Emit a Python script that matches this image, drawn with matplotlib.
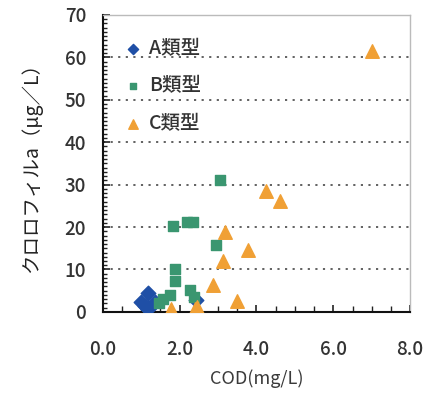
import numpy as np
import matplotlib.pyplot as plt
from matplotlib.ticker import MultipleLocator

plt.rcParams['font.family'] = ['Noto Sans CJK JP', 'DejaVu Sans']

# A類型
a_x = [1.17, 1.00, 1.35, 1.17, 1.10, 2.42]
a_y = [4.5, 2.3, 2.3, 0.8, 1.5, 2.8]
# B類型
b_x = [3.06, 1.83, 2.18, 2.35, 2.94, 1.88, 1.88, 2.27, 1.74, 1.57, 2.38, 1.45]
b_y = [31.0, 20.3, 21.1, 21.3, 15.8, 10.0, 7.3, 5.2, 4.0, 3.0, 3.6, 2.0]
# C類型
c_x = [7.0, 4.26, 4.61, 3.19, 3.79, 3.13, 2.87, 3.48, 1.78, 2.40, 2.45]
c_y = [61.5, 28.6, 26.2, 18.8, 14.6, 12.1, 6.4, 2.6, 0.6, 0.6, 1.2]

x_ticks = [0, 2, 4, 6, 8]
x_ticklabels = ['0.0', '2.0', '4.0', '6.0', '8.0']
y_ticks = [0, 10, 20, 30, 40, 50, 60, 70]

fig = plt.figure(figsize=(4.34, 4.03), dpi=100)
ax = fig.add_axes([0.237, 0.226, 0.708, 0.737])

for gy in y_ticks[1:-1]:
    ax.axhline(gy, color='#555555', lw=1.3, linestyle=(0, (1.2, 3.0)), zorder=1)

ax.scatter(a_x, a_y, marker='D', s=55, color='#1f4fa6', label='A類型', zorder=3)
ax.scatter(b_x, b_y, marker='s', s=45, color='#3a9670', label='B類型', zorder=3)
ax.scatter(c_x, c_y, marker='^', s=95, color='#f0a035', label='C類型', zorder=3)

ax.set_xlim(0, 8)
ax.set_ylim(0, 70)
ax.set_xticks(x_ticks)
ax.set_xticklabels(x_ticklabels)
ax.set_yticks(y_ticks)
ax.xaxis.set_minor_locator(MultipleLocator(0.5))
ax.yaxis.set_minor_locator(MultipleLocator(1))
ax.tick_params(axis='both', which='both', direction='in', labelsize=13.5, colors='#222222')
ax.tick_params(axis='x', which='both', pad=20, labelcolor='#333333')
ax.tick_params(axis='y', which='both', pad=12, labelcolor='#333333')
ax.tick_params(which='major', length=5, width=1.2)
ax.tick_params(which='minor', length=3, width=1.0)
ax.tick_params(axis='x', which='minor', length=4)
for lbl in ax.get_xticklabels() + ax.get_yticklabels():
    lbl.set_fontweight('medium')

for side in ['left', 'bottom']:
    ax.spines[side].set_color('#111111')
    ax.spines[side].set_linewidth(1.5)
for side in ['top', 'right']:
    ax.spines[side].set_color('#bbbbbb')
    ax.spines[side].set_linewidth(1.0)

ax.set_xlabel('COD(mg/L)', fontsize=13, color='#3a3a3a', labelpad=8)
ax.set_ylabel('クロロフィルa（μg／L）', fontsize=14, color='#222222', labelpad=16)

leg = ax.legend(loc='upper left', bbox_to_anchor=(0.04, 0.945), frameon=False,
                fontsize=14, handletextpad=0.35, handlelength=1.0, labelspacing=0.95,
                borderaxespad=0, markerscale=0.7, labelcolor='#333333')
for t in leg.get_texts():
    t.set_fontweight('medium')

plt.savefig('out.png', dpi=100)
